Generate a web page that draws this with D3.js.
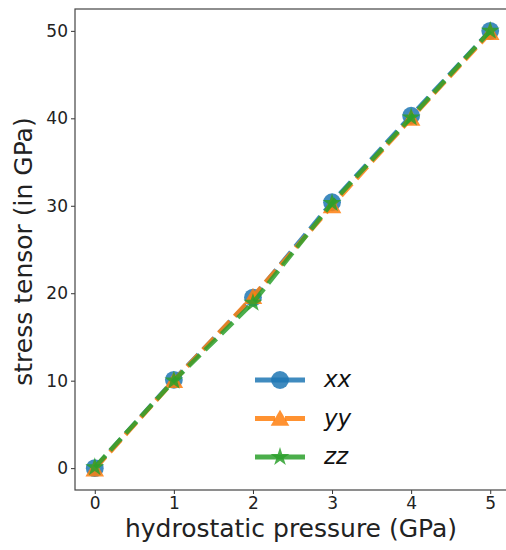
<!DOCTYPE html>
<html><head><meta charset="utf-8">
<script src="https://cdn.jsdelivr.net/npm/d3@7"></script>
<style>body{margin:0;background:#fff}svg{display:block}</style>
</head><body>
<script>
const pressure = [0, 1, 2, 3, 4, 5];
const xx = [0, 10.1, 19.5, 30.4, 40.3, 50.0];
const yy = [-0.1, 10.0, 19.6, 30.0, 40.0, 49.8];
const zz = [0.1, 10.0, 18.9, 30.3, 40.1, 50.0];
const seriesNames = ["xx", "yy", "zz"];
const colors = ["#1f77b4", "#ff7f0e", "#2ca02c"];
const markers = ["circle", "triangle", "star"];
const xTicks = [0, 1, 2, 3, 4, 5];
const yTicks = [0, 10, 20, 30, 40, 50];

const W = 506, H = 550;
const m = {left: 75, right: -4, top: 9, bottom: 60};
const svg = d3.select("body").append("svg").attr("width", W).attr("height", H);
const x = d3.scaleLinear().domain([-0.25, 5.25]).range([m.left, W - m.right]);
const y = d3.scaleLinear().domain([-2.5, 52.5]).range([H - m.bottom, m.top]);
const font = "DejaVu Sans, sans-serif";

const series = [xx, yy, zz];
const line = d3.line().x((d, i) => x(pressure[i])).y(d => y(d));

function markerPath(type, size) {
  const sym = type === "circle" ? d3.symbolCircle : type === "triangle" ? d3.symbolTriangle : d3.symbolStar;
  return d3.symbol().type(sym).size(size)();
}
const sizes = {circle: 250, triangle: 150, star: 110};

const plot = svg.append("g");
series.forEach((s, k) => {
  plot.append("path").datum(s).attr("d", line)
    .attr("fill", "none").attr("stroke", colors[k]).attr("stroke-width", 4.5)
    .attr("stroke-dasharray", "16,7").attr("opacity", 0.85);
  plot.selectAll(null).data(s).enter().append("path")
    .attr("d", markerPath(markers[k], sizes[markers[k]]))
    .attr("transform", (d, i) => `translate(${x(pressure[i])},${y(d) + (markers[k]==="triangle"?2:0)})`)
    .attr("fill", colors[k]).attr("opacity", 0.85);
});

// axes
const xAxis = svg.append("g").attr("transform", `translate(0,${H - m.bottom})`)
  .call(d3.axisBottom(x).tickValues(xTicks).tickFormat(d3.format("d")).tickSize(4).tickPadding(3));
const yAxis = svg.append("g").attr("transform", `translate(${m.left},0)`)
  .call(d3.axisLeft(y).tickValues(yTicks).tickFormat(d3.format("d")).tickSize(4).tickPadding(3));
[xAxis, yAxis].forEach(a => {
  a.select(".domain").remove();
  a.selectAll("text").attr("font-family", font).attr("font-size", 17).attr("fill", "#222");
  a.selectAll("line").attr("stroke", "#333");
});
svg.append("rect").attr("x", m.left).attr("y", m.top)
  .attr("width", x.range()[1] - m.left).attr("height", H - m.bottom - m.top)
  .attr("fill", "none").attr("stroke", "#444").attr("stroke-width", 1.2);

svg.append("text").attr("x", 291).attr("y", 537)
  .attr("text-anchor", "middle").attr("font-family", font).attr("font-size", 25).attr("fill", "#222")
  .text("hydrostatic pressure (GPa)");
svg.append("text").attr("transform", `translate(32,${(m.top + H - m.bottom) / 2 + 2}) rotate(-90)`)
  .attr("text-anchor", "middle").attr("font-family", font).attr("font-size", 25).attr("fill", "#222")
  .text("stress tensor (in GPa)");

// legend
const lg = svg.append("g");
seriesNames.forEach((n, k) => {
  const cy = 380 + k * 38.5;
  lg.append("line").attr("x1", 255).attr("x2", 305).attr("y1", cy).attr("y2", cy)
    .attr("stroke", colors[k]).attr("stroke-width", 5).attr("stroke-dasharray", k === 1 ? "20,10" : "50,0").attr("opacity", 0.85);
  lg.append("path").attr("d", markerPath(markers[k], sizes[markers[k]]))
    .attr("transform", `translate(280,${cy + (markers[k]==="triangle"?2:0)})`)
    .attr("fill", colors[k]).attr("opacity", 0.85);
  lg.append("text").attr("x", 324).attr("y", cy + 7).attr("font-family", font)
    .attr("font-style", "italic").attr("font-size", 23).attr("fill", "#111").text(n);
});
</script>
</body></html>
